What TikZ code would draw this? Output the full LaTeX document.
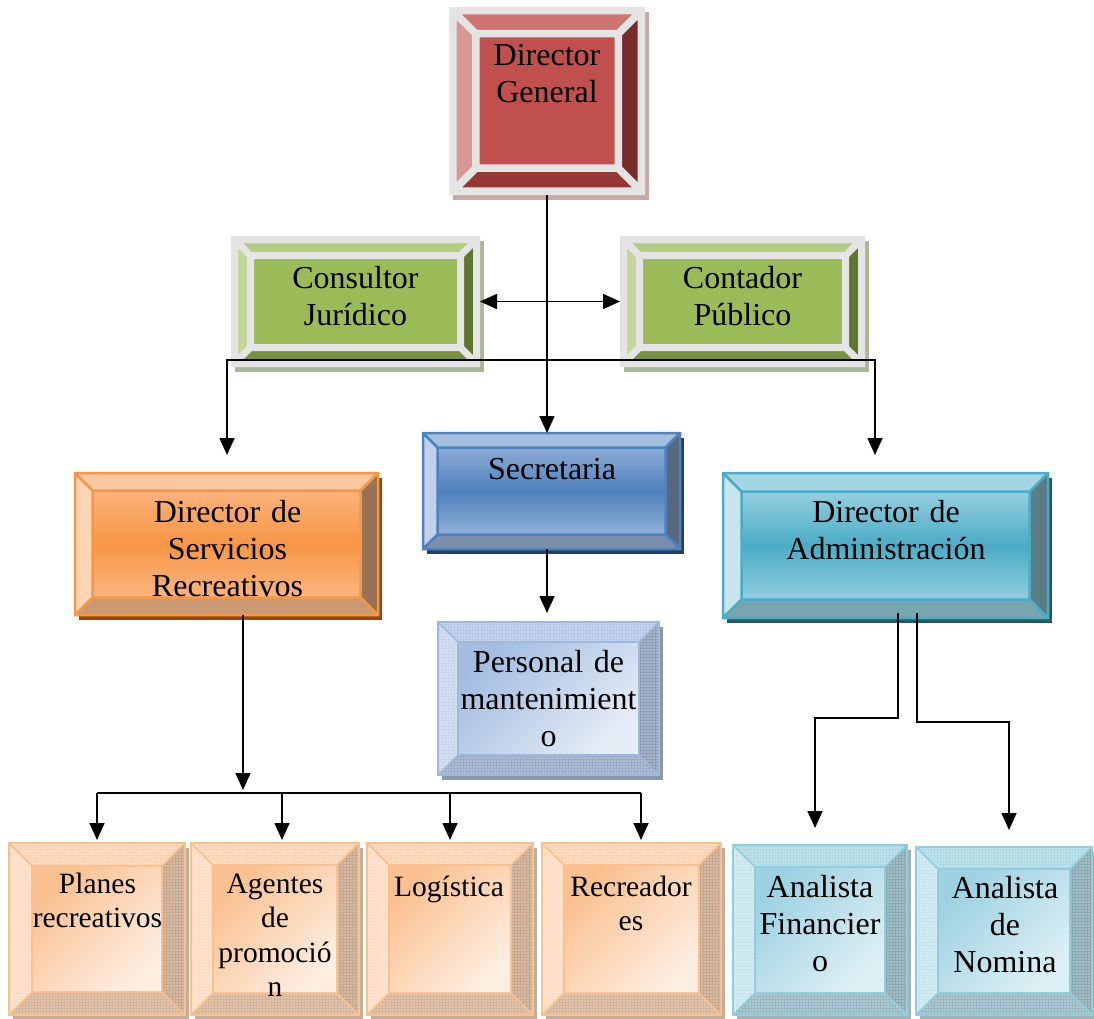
\documentclass[tikz,border=0pt]{standalone}
\usepackage{fontspec}
\setmainfont{Liberation Serif}
\usetikzlibrary{calc,arrows.meta,patterns.meta}

% ---------- colours ----------
\definecolor{frameGray}{HTML}{E4E4E4}
% director general (red)
\definecolor{dgTc}{HTML}{CD7371}\definecolor{dgLc}{HTML}{D99694}
\definecolor{dgRc}{HTML}{772C2A}\definecolor{dgBc}{HTML}{953735}
\definecolor{dgFc}{HTML}{C0504D}\definecolor{dgSc}{HTML}{CBA7A7}
% green
\definecolor{gnTc}{HTML}{B3CC82}\definecolor{gnLc}{HTML}{C3D69B}
\definecolor{gnRc}{HTML}{5F7530}\definecolor{gnBc}{HTML}{76923C}
\definecolor{gnFc}{HTML}{9BBB59}\definecolor{gnSc}{HTML}{A9B897}
% orange (servicios)
\definecolor{orTc}{HTML}{FAC8A0}\definecolor{orLc}{HTML}{FCD5B5}
\definecolor{orRc}{HTML}{977256}\definecolor{orBc}{HTML}{C99974}
\definecolor{orF1}{HTML}{FAB27B}\definecolor{orF2}{HTML}{F79646}
\definecolor{orF3}{HTML}{F9B581}\definecolor{orSc}{HTML}{984807}
% blue (secretaria)
\definecolor{blTc}{HTML}{A7BFDE}\definecolor{blLc}{HTML}{C2D1E8}
\definecolor{blRc}{HTML}{58697F}\definecolor{blBc}{HTML}{7B8FAD}
\definecolor{blF1}{HTML}{8EABD6}\definecolor{blF2}{HTML}{4F81BD}
\definecolor{blF3}{HTML}{93B1D8}\definecolor{blSc}{HTML}{243F60}
% teal (administracion)
\definecolor{tlTc}{HTML}{A5D5E3}\definecolor{tlLc}{HTML}{C6E5EE}
\definecolor{tlRc}{HTML}{5C7D86}\definecolor{tlBc}{HTML}{79A5AF}
\definecolor{tlF1}{HTML}{95CFDF}\definecolor{tlF2}{HTML}{4BACC6}
\definecolor{tlF3}{HTML}{92CDDC}\definecolor{tlSc}{HTML}{215968}
% pale blue (personal)
\definecolor{pbTc}{HTML}{B5C9E6}\definecolor{pbLc}{HTML}{C8D7EC}
\definecolor{pbRc}{HTML}{8F9EB8}\definecolor{pbBc}{HTML}{9AABC7}
\definecolor{pbF1}{HTML}{A3BDE1}\definecolor{pbF2}{HTML}{E5ECF5}
\definecolor{pbSc}{HTML}{8D98AC}\definecolor{pbOc}{HTML}{9DBADD}
% pale orange (bottom row)
\definecolor{poTc}{HTML}{FBD3B2}\definecolor{poLc}{HTML}{FCDCC2}
\definecolor{poRc}{HTML}{C8A78D}\definecolor{poBc}{HTML}{D6B497}
\definecolor{poF1}{HTML}{FAC08F}\definecolor{poF2}{HTML}{FDEEE2}
\definecolor{poSc}{HTML}{C5AE98}\definecolor{poOc}{HTML}{FAC090}
% pale teal (analistas)
\definecolor{ptTc}{HTML}{AEDAE6}\definecolor{ptLc}{HTML}{C7E5ED}
\definecolor{ptRc}{HTML}{8BAAB3}\definecolor{ptBc}{HTML}{98B9C2}
\definecolor{ptF1}{HTML}{9DD1E1}\definecolor{ptF2}{HTML}{DEF0F5}
\definecolor{ptSc}{HTML}{9DB4BA}\definecolor{ptOc}{HTML}{93CDDD}

\tikzset{
  boxnode/.style={rectangle, draw=none, inner sep=0pt, outer sep=0pt},
  lbl/.style={inner sep=0pt, align=center, text width=300pt, anchor=base,
              font=\fontsize{32}{37}\selectfont},
  lblsmall/.style={lbl, font=\fontsize{29.5}{34.5}\selectfont},
  con/.style={line width=1.6pt, draw=black},
  tip/.style={-{Triangle[length=17pt,width=15pt]}},
  tips/.style={{Triangle[length=17pt,width=15pt]}-{Triangle[length=17pt,width=15pt]}},
  dotfill/.style={postaction={pattern={Dots[distance=3pt,radius=0.55pt]}, pattern color=white}},
  % red theme
  dgT/.style={fill=dgTc}, dgL/.style={fill=dgLc}, dgR/.style={fill=dgRc},
  dgB/.style={fill=dgBc}, dgF/.style={fill=dgFc}, dgS/.style={fill=dgSc},
  dgO/.style={draw=frameGray, line width=7.5pt, line join=miter},
  % green theme
  gnT/.style={fill=gnTc}, gnL/.style={fill=gnLc}, gnR/.style={fill=gnRc},
  gnB/.style={fill=gnBc}, gnF/.style={fill=gnFc}, gnS/.style={fill=gnSc},
  gnO/.style={draw=frameGray, line width=7pt, line join=miter},
  % orange theme
  orT/.style={fill=orTc}, orL/.style={fill=orLc}, orR/.style={fill=orRc},
  orB/.style={fill=orBc}, orS/.style={fill=orSc},
  orF/.style={top color=orF1, bottom color=orF3, middle color=orF2},
  orO/.style={draw=orF2, line width=2.5pt},
  % blue theme
  blT/.style={fill=blTc}, blL/.style={fill=blLc}, blR/.style={fill=blRc},
  blB/.style={fill=blBc}, blS/.style={fill=blSc},
  blF/.style={top color=blF1, bottom color=blF3, middle color=blF2},
  blO/.style={draw=blF2, line width=2.5pt},
  % teal theme
  tlT/.style={fill=tlTc}, tlL/.style={fill=tlLc}, tlR/.style={fill=tlRc},
  tlB/.style={fill=tlBc}, tlS/.style={fill=tlSc},
  tlF/.style={top color=tlF1, bottom color=tlF3, middle color=tlF2},
  tlO/.style={draw=tlF2, line width=2.5pt},
  % pale blue theme
  pbT/.style={fill=pbTc, dotfill}, pbL/.style={fill=pbLc, dotfill},
  pbR/.style={fill=pbRc, dotfill}, pbB/.style={fill=pbBc, dotfill},
  pbS/.style={fill=pbSc},
  pbF/.style={top color=pbF1, bottom color=pbF2, shading angle=45},
  pbO/.style={draw=pbOc, line width=1.6pt},
  % pale orange theme
  poT/.style={fill=poTc, dotfill}, poL/.style={fill=poLc, dotfill},
  poR/.style={fill=poRc, dotfill}, poB/.style={fill=poBc, dotfill},
  poS/.style={fill=poSc},
  poF/.style={top color=poF1, bottom color=poF2, shading angle=45},
  poO/.style={draw=poOc, line width=1.6pt},
  % pale teal theme
  ptT/.style={fill=ptTc, dotfill}, ptL/.style={fill=ptLc, dotfill},
  ptR/.style={fill=ptRc, dotfill}, ptB/.style={fill=ptBc, dotfill},
  ptS/.style={fill=ptSc},
  ptF/.style={top color=ptF1, bottom color=ptF2, shading angle=45},
  ptO/.style={draw=ptOc, line width=1.6pt},
}

% #1 node name, #2 inset of the outline, #3 bevel width, #4 theme prefix
\newcommand\bevbox[4]{%
  \fill[#4S] ($(#1.north west)+(4,5)$) rectangle ($(#1.south east)+(4,5)$);
  \coordinate (#1A) at ($(#1.north west)+(#2,#2)$);
  \coordinate (#1B) at ($(#1.north east)+(-#2,#2)$);
  \coordinate (#1C) at ($(#1.south east)+(-#2,-#2)$);
  \coordinate (#1D) at ($(#1.south west)+(#2,-#2)$);
  \coordinate (#1a) at ($(#1A)+(#3,#3)$);
  \coordinate (#1b) at ($(#1B)+(-#3,#3)$);
  \coordinate (#1c) at ($(#1C)+(-#3,-#3)$);
  \coordinate (#1d) at ($(#1D)+(#3,-#3)$);
  \fill[#4T] (#1A) -- (#1B) -- (#1b) -- (#1a) -- cycle;
  \fill[#4L] (#1A) -- (#1a) -- (#1d) -- (#1D) -- cycle;
  \fill[#4R] (#1B) -- (#1C) -- (#1c) -- (#1b) -- cycle;
  \fill[#4B] (#1D) -- (#1d) -- (#1c) -- (#1C) -- cycle;
  \fill[#4F] (#1a) rectangle (#1c);
  \draw[#4O] (#1A) rectangle (#1C) (#1a) rectangle (#1c)
    (#1A) -- (#1a) (#1B) -- (#1b) (#1C) -- (#1c) (#1D) -- (#1d);
}

\begin{document}
\begin{tikzpicture}[x=1pt, y=-1pt]
\useasboundingbox (0,0) rectangle (1094,1019);
\fill[white] (0,0) rectangle (1094,1019);

% ---------- box frames ----------
\node[boxnode, minimum width=196pt, minimum height=188pt] (dg) at (547,101) {};
\node[boxnode, minimum width=249pt, minimum height=131pt] (cj) at (355.5,301.5) {};
\node[boxnode, minimum width=245pt, minimum height=131pt] (cp) at (742.5,301.5) {};
\node[boxnode, minimum width=303pt, minimum height=142pt] (ds) at (226.5,544) {};
\node[boxnode, minimum width=257pt, minimum height=116pt] (se) at (551.5,491) {};
\node[boxnode, minimum width=325pt, minimum height=145pt] (da) at (885.5,545.5) {};
\node[boxnode, minimum width=221pt, minimum height=153pt] (pm) at (548.5,698.5) {};
\node[boxnode, minimum width=176pt, minimum height=172pt] (pr) at (97,929) {};
\node[boxnode, minimum width=168pt, minimum height=172pt] (ag) at (275,929) {};
\node[boxnode, minimum width=166pt, minimum height=172pt] (lo) at (450,929) {};
\node[boxnode, minimum width=179pt, minimum height=172pt] (re) at (631.5,929) {};
\node[boxnode, minimum width=174pt, minimum height=170pt] (af) at (820,930) {};
\node[boxnode, minimum width=176pt, minimum height=168pt] (an) at (1004,931) {};

\bevbox{dg}{3.75}{23}{dg}
\bevbox{cj}{3.5}{16}{gn}
\bevbox{cp}{3.5}{16}{gn}
\bevbox{ds}{0}{17.5}{or}
\bevbox{se}{0}{14.5}{bl}
\bevbox{da}{0}{18.5}{tl}
\bevbox{pm}{0}{20}{pb}
\bevbox{pr}{0}{23}{po}
\bevbox{ag}{0}{22}{po}
\bevbox{lo}{0}{22}{po}
\bevbox{re}{0}{22}{po}
\bevbox{af}{0}{22}{pt}
\bevbox{an}{0}{22}{pt}

% ---------- labels ----------
\node[lbl] (dgt) at (547,66) {Director\\General};
\node[lbl] (cjt) at (355.5,288) {Consultor\\Jurídico};
\node[lbl] (cpt) at (742.5,288) {Contador\\Público};
\node[lbl] (dst) at (227.5,522) {Director de\\Servicios\\Recreativos};
\node[lbl] (set) at (552,479) {Secretaria};
\node[lbl] (pmt) at (548.5,672) {Personal de\\mantenimient\\o};
\node[lbl] (dat) at (886,522) {Director de\\Administración};
\node[lblsmall] (prt) at (97.5,893) {Planes\\recreativos};
\node[lblsmall] (agt) at (275,893) {Agentes\\de\\promoció\\n};
\node[lblsmall] (lot) at (449,896) {Logística};
\node[lblsmall] (ret) at (631,896) {Recreador\\es};
\node[lbl] (aft) at (820,897) {Analista\\Financier\\o};
\node[lbl] (ant) at (1005,898) {Analista\\de\\Nomina};

% ---------- connectors ----------
\coordinate (dsin) at (227,455);
\coordinate (dain) at (875,455);
\coordinate (toprail) at (0,360);
\coordinate (pmin) at (547,613);
\coordinate (dsout) at (243,790);
\coordinate (bus) at (0,793);
\coordinate (prin) at (97,840);
\coordinate (agin) at (282,840);
\coordinate (loin) at (450,840);
\coordinate (rein) at (641,840);
\coordinate (afin) at (815,828);
\coordinate (anin) at (1009,830);

\draw[con, tip] (dg.south) -- (dg.south |- se.north);
\draw[con, tips] (cj.east) -- (cp.west);
\draw[con, tips] (dsin) |- (dain |- toprail) -- (dain);
\draw[con, tip] (se.south -| pmin) -- (pmin);
\draw[con, tip] (ds.south -| dsout) -- (dsout);
\draw[con] (prin |- bus) -- (rein |- bus);
\draw[con, tip] (prin |- bus) -- (prin);
\draw[con, tip] (agin |- bus) -- (agin);
\draw[con, tip] (loin |- bus) -- (loin);
\draw[con, tip] (rein |- bus) -- (rein);
\draw[con, tip] ($(da.south)+(12.5,-5)$) |- ($(afin)+(0,-110)$) -- (afin);
\draw[con, tip] ($(da.south)+(31.5,-5)$) |- ($(anin)+(0,-108)$) -- (anin);
\end{tikzpicture}
\end{document}
